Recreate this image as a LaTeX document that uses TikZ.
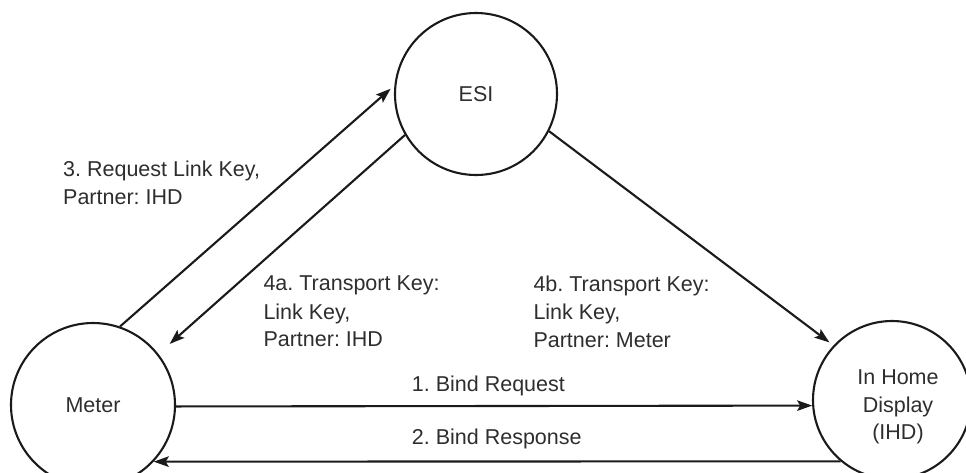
\documentclass[tikz,border=0pt]{standalone}
\usepackage{fontspec}
\setmainfont{Liberation Sans}
\usetikzlibrary{arrows.meta}
\frenchspacing
\definecolor{ink}{HTML}{1A1A1A}
\definecolor{txt}{HTML}{2E2E2E}
\tikzset{
  party/.style={circle, draw=ink, line width=2.1pt, inner sep=0pt,
                text=txt, align=center, font=\fontsize{21.5}{27.5}\selectfont},
  msg/.style={text=txt, align=left, inner sep=0pt,
              font=\fontsize{21.5}{28}\selectfont},
  flow/.style={draw=ink, line width=2.1pt,
               -{Stealth[length=15pt, width=10.5pt, inset=3pt]}}
}
\begin{document}
\begin{tikzpicture}[x=1pt, y=-1pt]
  \useasboundingbox (0,0) rectangle (966,472);

  % the three parties
  \node[party, minimum size=162pt] (esi)   at (476,94)  {ESI};
  \node[party, minimum size=164pt] (meter) at (93,405)  {Meter};
  \node[party, minimum size=158pt] (ihd)   at (892,400) {};
  \node[text=txt, align=center, inner sep=0pt,
        font=\fontsize{21.5}{27.5}\selectfont] (ihdname) at (898,407)
        {In Home\\Display\\(IHD)};

  % message flows
  \draw[flow, shorten >=5pt]  (meter.71.4)  -- (esi.174.5);
  \draw[flow, shorten >=15pt] (esi.210)     -- (meter.38.8);
  \draw[flow, shorten >=5pt]  (esi.-27.8)   -- (ihd.137.6);
  \draw[flow]                 (meter.-1.2)  -- (ihd.184.9);
  \draw[flow]                 (ihd.230.6)   -- (meter.-43.2);

  % message labels
  \node[msg, anchor=north west] (m3)  at (63,160.4)
       {3. Request Link Key,\\Partner: IHD};
  \node[msg, anchor=north west] (m4a) at (263.3,276)
       {4a. Transport Key:\\Link Key,\\Partner: IHD};
  \node[msg, anchor=north west] (m4b) at (533.3,275.5)
       {4b. Transport Key:\\Link Key,\\Partner: Meter};
  \node[msg, anchor=base west] (m1) at (411.7,391.7) {1. Bind Request};
  \node[msg, anchor=base west] (m2) at (411.7,444)   {2. Bind Response};
\end{tikzpicture}
\end{document}
